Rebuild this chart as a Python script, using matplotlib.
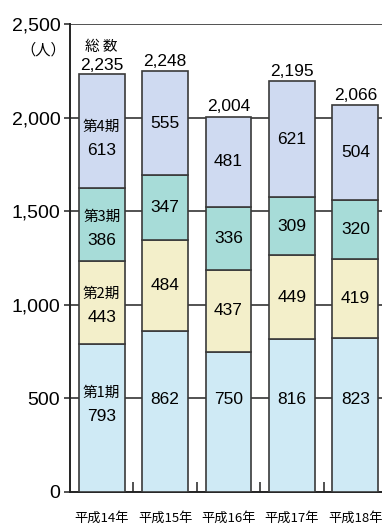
import matplotlib
matplotlib.use("Agg")
import matplotlib.pyplot as plt
import numpy as np

years = ["平成14年", "平成15年", "平成16年", "平成17年", "平成18年"]
phase_names = ["第1期", "第2期", "第3期", "第4期"]
phase1 = [793, 862, 750, 816, 823]
phase2 = [443, 484, 437, 449, 419]
phase3 = [386, 347, 336, 309, 320]
phase4 = [613, 555, 481, 621, 504]
totals = [2235, 2248, 2004, 2195, 2066]
yticks = [0, 500, 1000, 1500, 2000, 2500]
ytick_labels = ["0", "500", "1,000", "1,500", "2,000", "2,500"]

colors = ["#cfeaf5", "#f3efca", "#a7dcd8", "#cfdaf1"]
edge = "#3a3a3a"
JP = ["Noto Sans CJK JP", "DejaVu Sans"]
NUM = ["Liberation Sans", "DejaVu Sans"]

fig = plt.figure(figsize=(3.82, 5.30), dpi=100)
ax = fig.add_axes([70 / 382, 38 / 530, 317 / 382, 468 / 530])
ax.set_xlim(-0.5, 4.5)
ax.set_ylim(0, 2500)

x = np.arange(len(years))
series = [phase1, phase2, phase3, phase4]
bottom = np.zeros(len(years))
width = 0.725
for k, vals in enumerate(series):
    ax.bar(x, vals, width, bottom=bottom, color=colors[k], edgecolor=edge,
           linewidth=1.2, zorder=3)
    for i, v in enumerate(vals):
        if k == 0:
            yc = 465 if i == 0 else 495
        else:
            yc = bottom[i] + v / 2
        if i == 0:
            if k == 3:
                yc -= 40
            elif k == 0:
                pass
            else:
                yc -= 20
            ax.annotate(phase_names[k], (x[i], yc), xytext=(0, 8.5),
                        textcoords="offset points", ha="center", va="center",
                        fontsize=10.5, family=JP, zorder=5)
            ax.annotate(str(v), (x[i], yc), xytext=(0, -8.5),
                        textcoords="offset points", ha="center", va="center",
                        fontsize=12.5, family=NUM, zorder=5)
        else:
            ax.text(x[i], yc, str(v), ha="center", va="center",
                    fontsize=12.5, family=NUM, zorder=5)
    bottom = bottom + np.array(vals)

for i, t in enumerate(totals):
    ax.annotate(f"{t:,}", (x[i], t), xytext=(0, 0.3 if i == 0 else 1.8),
                textcoords="offset points",
                ha="center", va="bottom", fontsize=12.5, family=NUM, zorder=5)
ax.annotate("総 数", (x[0], totals[0]), xytext=(0, 19), textcoords="offset points",
            ha="center", va="center", fontsize=10.5, family=JP, zorder=5)

# grid
for yv in yticks[1:]:
    ax.axhline(yv, color="#444444", lw=1.3, zorder=1)

ax.set_yticks(yticks)
ax.set_yticklabels(ytick_labels, fontsize=14, family=NUM)
ax.tick_params(axis="y", direction="out", length=4, width=1.2, pad=3, color="#333333")

ax.set_xticks(x)
ax.set_xticklabels(years, fontsize=9.5, family=JP)
ax.tick_params(axis="x", length=0, pad=14)
ax.set_xticks(x[:-1] + 0.5, minor=True)
ax.tick_params(axis="x", which="minor", direction="in", length=7, width=1.2, color="#333333")

for s in ["top", "right"]:
    ax.spines[s].set_visible(False)
ax.spines["left"].set_linewidth(1.4)
ax.spines["bottom"].set_linewidth(1.4)
ax.spines["left"].set_color("#222222")
ax.spines["bottom"].set_color("#222222")

fig.text(43 / 382, 1 - 50 / 530, "（人）", ha="center", va="center", fontsize=11, family=JP)

fig.savefig("out.png", dpi=100)
